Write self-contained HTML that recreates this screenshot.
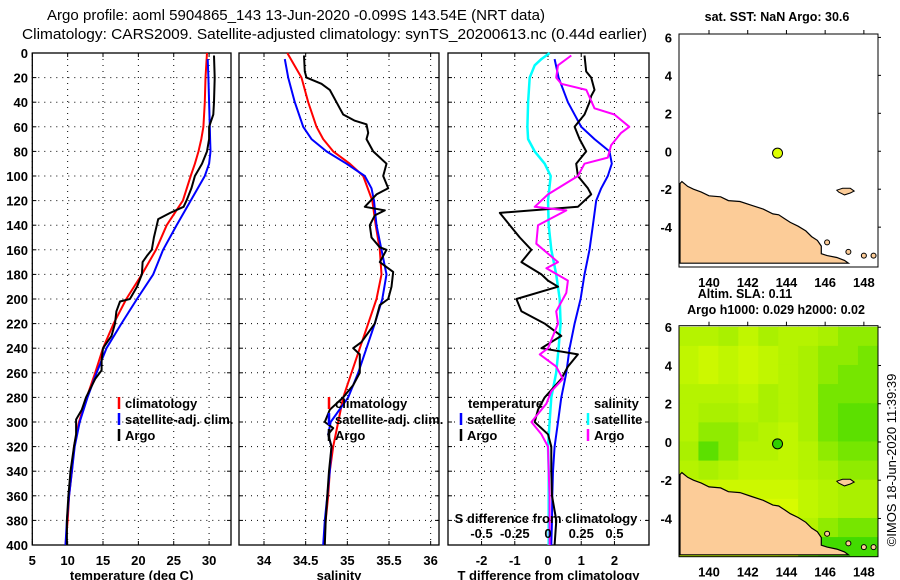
<!DOCTYPE html>
<html><head><meta charset="utf-8"><style>
body{margin:0;background:#fff}
svg{display:block;font-family:"Liberation Sans",sans-serif}
</style></head><body>
<svg id="c" width="900" height="580" viewBox="0 0 900 580" xmlns="http://www.w3.org/2000/svg">
<text x="47" y="20" font-size="15" textLength="498" lengthAdjust="spacingAndGlyphs">Argo profile: aoml 5904865_143 13-Jun-2020 -0.099S 143.54E (NRT data)</text>
<text x="22" y="39" font-size="15" textLength="625" lengthAdjust="spacingAndGlyphs">Climatology: CARS2009. Satellite-adjusted climatology: synTS_20200613.nc (0.44d earlier)</text>
</svg>
<script>
const depths=[0,20,40,60,70,80,90,100,120,140,160,180,200,220,240,260,280,300,320,340,360,380,400];
const tClim=[29.7,29.5,29.4,29.2,28.9,28.5,28.0,27.4,26.3,24.0,22.5,20.5,18.3,16.5,15.0,13.9,12.7,11.6,10.9,10.6,10.2,10.0,9.7];
const tSatDepths=[5,20,40,60,70,80,90,100,120,140,160,180,200,220,240,260,280,300,320,340,360,380,400];
const tSat=[29.8,29.9,30.0,30.1,30.15,30.2,30.0,29.4,27.4,25.4,23.5,22.1,19.8,17.6,15.5,14.1,12.8,11.7,11.0,10.6,10.2,9.9,9.7];
const sClim=[34.28,34.45,34.53,34.63,34.71,34.83,35.03,35.19,35.30,35.34,35.39,35.41,35.35,35.25,35.15,35.05,34.95,34.89,34.83,34.79,34.77,34.74,34.72];
const sSatDepths=[5,20,40,60,70,80,90,100,110,120,140,160,180,200,220,240,260,280,300,310,320,340,360,380,400];
const sSat=[34.25,34.29,34.37,34.47,34.57,34.75,34.99,35.21,35.29,35.32,35.35,35.41,35.47,35.42,35.33,35.23,35.13,35.01,34.80,34.77,34.81,34.79,34.76,34.73,34.71];
const argoTDepths=[2,20,40,50,60,70,80,90,100,110,120,125,130,135,140,150,160,165,170,180,190,200,202,210,220,230,240,250,258,265,280,290,298,310,320,340,360,380,400];
const argoT=[30.7,30.8,30.7,30.6,30.0,30.0,29.7,29.0,28.0,27.5,26.8,26.4,24.5,22.8,22.6,22.2,21.9,21.2,20.6,20.5,19.8,18.8,17.4,16.9,16.7,16.2,15.0,14.8,14.8,13.9,12.6,12.0,11.2,11.2,10.9,10.4,10.1,9.9,9.9];
const argoSDepths=[2,15,20,25,30,40,45,50,55,58,65,70,80,90,100,110,115,125,128,132,140,150,158,160,170,178,190,200,205,220,235,240,245,260,270,280,290,300,305,310,320,340,360,380,400];
const argoS=[34.48,34.49,34.51,34.69,34.79,34.87,34.91,34.95,35.09,35.23,35.25,35.23,35.31,35.47,35.43,35.49,35.35,35.21,35.45,35.33,35.27,35.29,35.39,35.47,35.39,35.55,35.53,35.49,35.39,35.33,35.17,35.07,35.15,35.15,35.07,34.95,34.79,34.73,34.83,34.77,34.81,34.78,34.76,34.74,34.73];
const dSatTDepths=[5,20,40,60,70,80,90,100,110,120,140,160,180,200,220,240,260,280,300,320,340,360,380,400];
const dSatT=[0.2,0.32,0.6,1.0,1.4,1.85,1.92,1.8,1.6,1.45,1.35,1.25,1.1,0.98,0.8,0.65,0.55,0.4,0.3,0.2,0.15,0.13,0.12,0.1];
const dArgoTDepths=[2,15,20,30,35,40,50,60,70,80,90,100,110,115,125,130,140,150,160,170,180,185,190,200,210,220,230,240,245,255,265,280,290,300,310,320,340,360,380,400];
const dArgoT=[1.1,1.15,1.3,1.4,1.3,1.25,1.1,0.8,0.95,1.15,0.85,0.9,1.2,1.3,0.9,-1.45,-1.15,-0.85,-0.5,-0.8,-0.2,0,0.3,-0.95,-0.8,-0.1,0.4,-0.2,0.9,0.6,0.4,-0.1,-0.3,-0.4,0,0.1,0.1,0.12,0.25,0.2];
const dSatSDepths=[0,5,10,20,40,60,70,80,90,100,120,140,160,180,200,220,240,260,280,300,320,340,360,380,400];
const dSatS=[0.012,-0.05,-0.1,-0.138,-0.15,-0.155,-0.15,-0.1,-0.025,0.02,0,0.005,0.025,0.062,0.088,0.095,0.08,0.062,0.025,0.012,0,0.005,0.005,0.005,0.005];
const dArgoSDepths=[2,10,20,25,30,45,50,60,65,75,85,90,100,115,125,128,140,155,170,175,185,195,210,220,240,245,255,265,275,285,300,310,320,340,360,400];
const dArgoS=[0.175,0.075,0.062,0.1,0.288,0.35,0.5,0.612,0.55,0.475,0.45,0.275,0.225,0,-0.1,0.138,-0.075,-0.088,0.075,-0.012,0.15,0.138,0.062,0.075,0,-0.062,0.062,0.112,0.025,-0.012,-0.125,-0.05,0,0.005,0.012,0.012];
const mapLonTicks=[140,142,144,146,148];
const mapLatTicks=[6,4,2,0,-2,-4];
const argoLon=143.54, argoLat=-0.099;
const coastLon=[138.5,138.6,138.9,139.2,139.6,140,140.6,141,141.6,142.2,142.8,143.3,143.6,143.9,144.2,144.6,145,145.3,145.6,145.8,145.8,146.1,146.6,147.0,147.2,138.5];
const coastLat=[-1.7,-1.6,-1.85,-2.0,-2.15,-2.35,-2.4,-2.6,-2.65,-2.85,-3.05,-3.3,-3.35,-3.55,-3.75,-3.95,-4.2,-4.5,-4.7,-5.0,-5.4,-5.5,-5.6,-5.75,-5.9,-5.9];
const islLon=[146.6,146.9,147.3,147.5,147.3,147.0,146.7];
const islLat=[-2.05,-1.95,-1.95,-2.1,-2.2,-2.3,-2.15];
const slaGrid=[
[0.4,0.4,0.5,0.3,0.5,0.4,0.4,0.5,0.6,0.6],
[0.3,0.2,0.3,0.2,0.3,0.4,0.5,0.6,0.6,0.7],
[0.3,0.2,0.3,0.2,0.3,0.4,0.5,0.6,0.7,0.7],
[0.4,0.4,0.4,0.3,0.5,0.4,0.5,0.7,0.7,0.7],
[0.4,0.5,0.5,0.4,0.5,0.4,0.5,0.7,0.8,0.8],
[0.4,0.6,0.6,0.5,0.4,0.3,0.5,0.7,0.8,0.8],
[0.5,0.8,0.6,0.4,0.4,0.3,0.4,0.6,0.7,0.7],
[0.4,0.5,0.4,0.3,0.3,0.3,0.4,0.5,0.6,0.6],
[0.2,0.2,0.2,0.2,0.2,0.2,0.3,0.4,0.5,0.5],
[0.2,0.2,0.2,0.1,0.1,0.1,0.3,0.4,0.5,0.5],
[0.3,0.3,0.3,0.2,0.2,0.3,0.4,0.6,0.7,0.7],
[0.3,0.3,0.3,0.3,0.3,0.4,0.8,0.9,0.9,0.9]];

var SVGROOT=document.getElementById('c');
var SVGNS='http://www.w3.org/2000/svg';
function mk(tag,attrs,parent){var e=document.createElementNS(SVGNS,tag);for(var k in attrs){e.setAttribute(k,attrs[k]);}(parent||SVGROOT).appendChild(e);return e;}
function mkText(x,y,s,size,anchor,parent){var t=mk('text',{x:x,y:y,'font-size':size,'text-anchor':anchor||'middle','font-weight':'bold'},parent);t.textContent=s;return t;}
function safe(f){try{f();}catch(err){console.log(err);}}

var PY0=53,PY1=545;
function yD(d){return PY0+(PY1-PY0)*d/400;}

function makePanel(name,x0,x1,vmin,vmax,ticks,tickLabels,title,showDepth){
  var g=mk('g',{});
  
  
  var xs=function(v){return x0+(x1-x0)*(v-vmin)/(vmax-vmin);};
  for(var d=20;d<400;d+=20){mk('line',{x1:x0,x2:x1,y1:yD(d),y2:yD(d),stroke:'#000','stroke-width':1,'stroke-dasharray':'1,5'},g);}
  ticks.forEach(function(v,i){
    mk('line',{x1:xs(v),x2:xs(v),y1:PY0,y2:PY1,stroke:'#000','stroke-width':1,'stroke-dasharray':'1,5'},g);
    mk('line',{x1:xs(v),x2:xs(v),y1:PY1,y2:PY1-4,stroke:'#000'},g);
    mk('line',{x1:xs(v),x2:xs(v),y1:PY0,y2:PY0+4,stroke:'#000'},g);
    var t=mkText(xs(v),565,tickLabels[i],13,'middle',g);
    
    
  });
  for(var dd=0;dd<=400;dd+=20){
    mk('line',{x1:x0,x2:x0+4,y1:yD(dd),y2:yD(dd),stroke:'#000'},g);
    mk('line',{x1:x1,x2:x1-4,y1:yD(dd),y2:yD(dd),stroke:'#000'},g);
    if(showDepth){var t2=mkText(28,yD(dd)+5,String(dd),13,'end',g);
      
      }
  }
  mk('rect',{x:x0,y:PY0,width:x1-x0,height:PY1-PY0,fill:'none',stroke:'#000','stroke-width':1.3},g);
  var tt=mkText((x0+x1)/2,580,title,13,'middle',g);
  
  
  return {g:g,xs:xs};
}
function drawSeries(g,xs,ds,vs,color,w,name){
  var pts=[];
  for(var i=0;i<ds.length&&i<vs.length;i++){pts.push(xs(vs[i]).toFixed(1)+','+yD(ds[i]).toFixed(1));}
  var p=mk('polyline',{points:pts.join(' '),fill:'none',stroke:color,'stroke-width':w,'stroke-linejoin':'round'},g);
  
  
}
function legendItem(g,x,y,color,label){
  mk('line',{x1:x,x2:x,y1:y-11,y2:y+1,stroke:color,'stroke-width':2.5},g);
  var t=mkText(x+6,y,label,13,'start',g);
  
  
}

safe(function(){
  var p1=makePanel('temperature-panel',32.3,231,5,33.1,[5,10,15,20,25,30],['5','10','15','20','25','30'],'temperature (deg C)',true);
  drawSeries(p1.g,p1.xs,depths,tClim,'#ff0000',2,'climatology-temperature-line');
  drawSeries(p1.g,p1.xs,tSatDepths,tSat,'#0000ff',2,'satellite-temperature-line');
  drawSeries(p1.g,p1.xs,argoTDepths,argoT,'#000',2,'argo-temperature-line');
  legendItem(p1.g,119,408,'#ff0000','climatology');
  legendItem(p1.g,119,424,'#0000ff','satellite-adj. clim.');
  legendItem(p1.g,119,440,'#000','Argo');
});
safe(function(){
  var p2=makePanel('salinity-panel',239,439,33.7,36.1,[34,34.5,35,35.5,36],['34','34.5','35','35.5','36'],'salinity',false);
  drawSeries(p2.g,p2.xs,depths,sClim,'#ff0000',2,'climatology-salinity-line');
  drawSeries(p2.g,p2.xs,sSatDepths,sSat,'#0000ff',2,'satellite-salinity-line');
  drawSeries(p2.g,p2.xs,argoSDepths,argoS,'#000',2,'argo-salinity-line');
  legendItem(p2.g,329,408,'#ff0000','climatology');
  legendItem(p2.g,329,424,'#0000ff','satellite-adj. clim.');
  legendItem(p2.g,329,440,'#000','Argo');
});
safe(function(){
  var p3=makePanel('difference-panel',448,649,-3.01,3.04,[-2,-1,0,1,2],['-2','-1','0','1','2'],'T difference from climatology',false);
  var xsS=function(v){return p3.xs(v*4);};
  drawSeries(p3.g,xsS,dSatSDepths,dSatS,'#00ffff',2.5,'satellite-salinity-diff-line');
  drawSeries(p3.g,p3.xs,dSatTDepths,dSatT,'#0000ff',2,'satellite-temperature-diff-line');
  drawSeries(p3.g,p3.xs,dArgoTDepths,dArgoT,'#000',2,'argo-temperature-diff-line');
  drawSeries(p3.g,xsS,dArgoSDepths,dArgoS,'#ff00ff',2,'argo-salinity-diff-line');
  var h1=mkText(468,408,'temperature',13,'start',p3.g);
  
  
  var h2=mkText(594,408,'salinity',13,'start',p3.g);
  
  
  legendItem(p3.g,461,424,'#0000ff','satellite');
  legendItem(p3.g,461,440,'#000','Argo');
  legendItem(p3.g,588,424,'#00ffff','satellite');
  legendItem(p3.g,588,440,'#ff00ff','Argo');
  var sLabels=['-0.5','-0.25','0','0.25','0.5'];
  [-0.5,-0.25,0,0.25,0.5].forEach(function(v,i){var t=mkText(xsS(v),538,sLabels[i],13,'middle',p3.g);
    
    });
  var sd=mkText(546,523,'S difference from climatology',13,'middle',p3.g);
  
  
});

function slaColor(v){
  var c0=[226,254,0],c1=[170,240,0],c2=[40,214,0],a,b,t;
  if(v<0.5){a=c0;b=c1;t=v/0.5;}else{a=c1;b=c2;t=(v-0.5)/0.5;}
  return 'rgb('+a.map(function(x,i){return Math.round(x+(b[i]-x)*t);}).join(',')+')';
}
function drawMap(name,top,bottom,latTop,latBot,titles,heat){
  var g=mk('g',{});
  
  
  var X0=679,X1=878,lon0=138.45,lon1=148.73;
  var xs=function(v){return X0+(X1-X0)*(v-lon0)/(lon1-lon0);};
  var ys=function(v){return top+(bottom-top)*(latTop-v)/(latTop-latBot);};
  var clipId='clip-'+name;
  var cp=mk('clipPath',{id:clipId},g);mk('rect',{x:X0,y:top,width:X1-X0,height:bottom-top},cp);
  var inner=mk('g',{'clip-path':'url(#'+clipId+')'},g);
  if(heat){
    slaGrid.forEach(function(row,r){row.forEach(function(v,c){
      var cell=mk('rect',{x:xs(lon0+c*1.03)-0.5,y:ys(6-r)-0.5,width:(X1-X0)/10+1,height:ys(5)-ys(6)+1,fill:slaColor(v)},inner);
      
      
    });});
  }
  var land=mk('polygon',{points:coastLon.map(function(v,i){return xs(v).toFixed(1)+','+ys(coastLat[i]).toFixed(1);}).join(' '),fill:'#fccc98',stroke:'#000','stroke-width':1.2},inner);
  
  
  var isl=mk('polygon',{points:islLon.map(function(v,i){return xs(v).toFixed(1)+','+ys(islLat[i]).toFixed(1);}).join(' '),fill:'#fccc98',stroke:'#000','stroke-width':1},inner);
  
  
  [[146.1,-4.8],[147.2,-5.3],[148.0,-5.5],[148.5,-5.5]].forEach(function(p){mk('circle',{cx:xs(p[0]),cy:ys(p[1]),r:2.5,fill:'#fccc98',stroke:'#000'},inner);});
  mk('rect',{x:X0,y:top,width:X1-X0,height:bottom-top,fill:'none',stroke:'#000','stroke-width':1},g);
  var dot=mk('circle',{cx:xs(argoLon),cy:ys(argoLat),r:5,fill:heat?'#30d000':'#ddff00',stroke:'#000'},g);
  
  
  mapLonTicks.forEach(function(v){
    mk('line',{x1:xs(v),x2:xs(v),y1:top,y2:top-4,stroke:'#000'},g);
    var t=mkText(xs(v),bottom+20,String(v),13,'middle',g);
    
    
  });
  mapLatTicks.forEach(function(v){
    mk('line',{x1:X1,x2:X1+3,y1:ys(v),y2:ys(v),stroke:'#000'},g);
    var t=mkText(672,ys(v)+5,String(v),13,'end',g);
    
    
  });
  titles.forEach(function(tt){var t=mkText(tt[0],tt[1],tt[2],12.5,'middle',g);
    
    });
}
safe(function(){drawMap('sst-map',34,267,6.18,-6.1,[[777,21,'sat. SST: NaN Argo: 30.6']],false);});
safe(function(){drawMap('sla-map',325.7,556.7,6.08,-6.0,[[745,298,'Altim. SLA: 0.11'],[776,314,'Argo h1000: 0.029 h2000: 0.02']],true);});
safe(function(){
  var cr=mk('text',{x:0,y:0,'font-size':13,'text-anchor':'middle',transform:'translate(896,460) rotate(-90)'});
  cr.textContent='©IMOS 18-Jun-2020 11:39:39';
  
  
});
</script>
</body></html>
